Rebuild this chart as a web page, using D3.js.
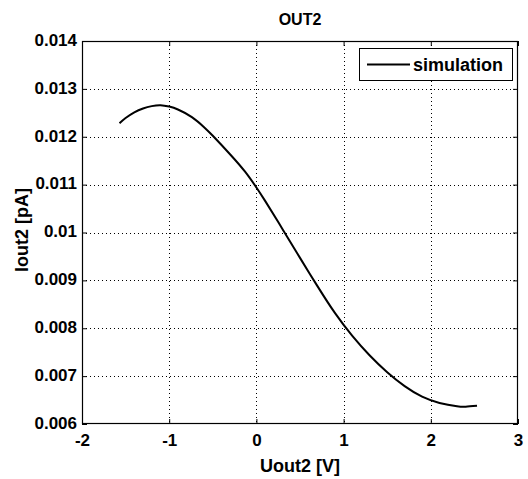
<!DOCTYPE html>
<html>
<head>
<meta charset="utf-8">
<script src="https://cdn.jsdelivr.net/npm/d3@7"></script>
<style>
  html, body { margin: 0; padding: 0; background: #fff; }
  svg { display: block; }
  text { font-family: "Liberation Sans", Arial, Helvetica, sans-serif; font-weight: bold; fill: #000; }
</style>
</head>
<body>
<svg id="chart" width="528" height="479"></svg>
<script>
const xValues = [-1.57, -1.5, -1.4, -1.3, -1.2, -1.1, -1.0, -0.9, -0.74, -0.6, -0.5, -0.3, -0.13, 0, 0.1, 0.3, 0.5, 0.7, 0.9, 1.1, 1.3, 1.5, 1.7, 1.9, 2.1, 2.3, 2.4, 2.53];
const simulation = [0.01228, 0.01239, 0.01251, 0.01259, 0.01264, 0.01266, 0.01263, 0.01257, 0.01241, 0.01220, 0.01202, 0.01163, 0.01127, 0.01094, 0.01066, 0.01007, 0.00947, 0.00888, 0.00832, 0.00784, 0.00743, 0.00708, 0.00679, 0.00657, 0.00644, 0.00637, 0.00636, 0.00638];
const xTicks = [-2, -1, 0, 1, 2, 3];
const yTicks = [0.006, 0.007, 0.008, 0.009, 0.01, 0.011, 0.012, 0.013, 0.014];
const xDomain = [-2, 3];
const yDomain = [0.006, 0.014];
const titleText = "OUT2";
const xLabel = "Uout2 [V]";
const yLabel = "Iout2 [pA]";
const legendLabel = "simulation";

const svg = d3.select("#chart");
const L = 82, R = 518, T = 41, B = 424;
const x = d3.scaleLinear().domain(xDomain).range([L, R]);
const y = d3.scaleLinear().domain(yDomain).range([B, T]);

// grid
const grid = svg.append("g").attr("stroke", "#000").attr("stroke-width", 1).attr("stroke-dasharray", "1,3");
grid.selectAll(".gx").data(xTicks.slice(1, -1)).enter().append("line")
  .attr("x1", d => Math.round(x(d)) + 0.5).attr("x2", d => Math.round(x(d)) + 0.5)
  .attr("y1", T).attr("y2", B);
grid.selectAll(".gy").data(yTicks.slice(1, -1)).enter().append("line")
  .attr("y1", d => Math.round(y(d)) + 0.5).attr("y2", d => Math.round(y(d)) + 0.5)
  .attr("x1", L).attr("x2", R);

// axes with inner ticks
const fmt = d => String(d);
const ax = svg.append("g").attr("transform", `translate(0,${B})`)
  .call(d3.axisBottom(x).tickValues(xTicks).tickSizeInner(-5).tickSizeOuter(0).tickFormat(fmt));
const axTop = svg.append("g").attr("transform", `translate(0,${T})`)
  .call(d3.axisTop(x).tickValues(xTicks).tickSizeInner(-5).tickSizeOuter(0).tickFormat(""));
const ay = svg.append("g").attr("transform", `translate(${L},0)`)
  .call(d3.axisLeft(y).tickValues(yTicks).tickSizeInner(-5).tickSizeOuter(0).tickFormat(fmt));
const ayR = svg.append("g").attr("transform", `translate(${R},0)`)
  .call(d3.axisRight(y).tickValues(yTicks).tickSizeInner(-5).tickSizeOuter(0).tickFormat(""));
[ax, axTop, ay, ayR].forEach(g => {
  g.select(".domain").remove();
  g.selectAll("line").attr("stroke", "#000").attr("stroke-width", 1);
});
ax.selectAll("text").style("font-size", "17px").attr("font-weight", "bold").attr("fill", "#000")
  .attr("y", 22).attr("dy", 0);
ay.selectAll("text").style("font-size", "17px").attr("font-weight", "bold").attr("fill", "#000")
  .attr("x", -5).attr("dy", "0.25em");

// box
svg.append("rect").attr("x", L + 0.5).attr("y", T + 0.5).attr("width", R - L - 1).attr("height", B - T - 1)
  .attr("fill", "none").attr("stroke", "#000").attr("stroke-width", 1.2);

// curve
const line = d3.line().x((d, i) => x(xValues[i])).y(d => y(d)).curve(d3.curveNatural);
svg.append("path").datum(simulation).attr("d", line)
  .attr("fill", "none").attr("stroke", "#000").attr("stroke-width", 2);

// legend
const lg = svg.append("g");
lg.append("rect").attr("x", 359.5).attr("y", 48.5).attr("width", 153).attr("height", 32)
  .attr("fill", "#fff").attr("stroke", "#000").attr("stroke-width", 1);
lg.append("line").attr("x1", 367).attr("x2", 410).attr("y1", 64.5).attr("y2", 64.5)
  .attr("stroke", "#000").attr("stroke-width", 2);
lg.append("text").attr("x", 413).attr("y", 71).style("font-size", "18px").text(legendLabel);

// title and labels
svg.append("text").attr("x", 300).attr("y", 25).attr("text-anchor", "middle").style("font-size", "16px").text(titleText);
svg.append("text").attr("x", 300).attr("y", 472).attr("text-anchor", "middle").style("font-size", "18px").text(xLabel);
svg.append("text").attr("transform", `translate(28,230) rotate(-90)`).attr("text-anchor", "middle").style("font-size", "18px").text(yLabel);
</script>
</body>
</html>
